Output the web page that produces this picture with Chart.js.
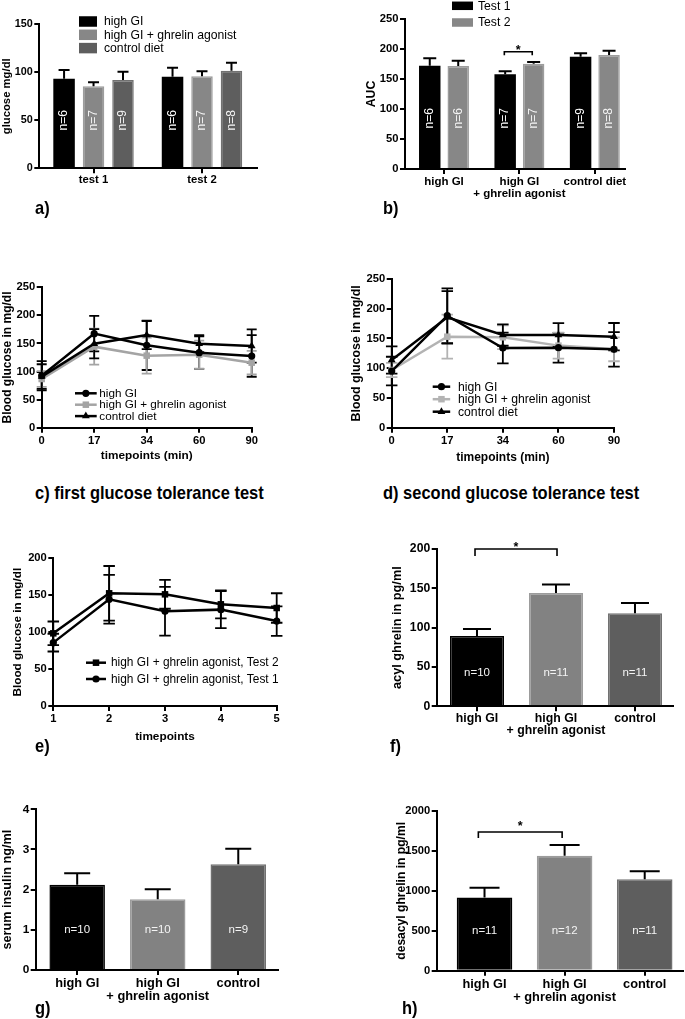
<!DOCTYPE html>
<html><head><meta charset="utf-8">
<script src="https://cdn.jsdelivr.net/npm/chart.js@4.4.1/dist/chart.umd.min.js"></script>
<style>
html,body{margin:0;padding:0;background:#fff;}
#fig{position:relative;width:685px;height:1019px;overflow:hidden;background:#fff;font-family:"Liberation Sans",Arial,Helvetica,sans-serif;}
#fig canvas{position:absolute;}
.lbl{position:absolute;font-weight:bold;font-size:18.5px;line-height:1;white-space:nowrap;color:#000;transform:scaleX(0.89);transform-origin:0 50%;}
</style></head><body>
<div id="fig">
<canvas id="ca"></canvas><canvas id="cb"></canvas>
<canvas id="cc"></canvas><canvas id="cd"></canvas>
<canvas id="ce"></canvas><canvas id="cf"></canvas>
<canvas id="cg"></canvas><canvas id="ch"></canvas>
<div class="lbl" style="left:35px;top:199px">a)</div>
<div class="lbl" style="left:383px;top:199px">b)</div>
<div class="lbl" style="left:35px;top:484px">c) first glucose tolerance test</div>
<div class="lbl" style="left:383px;top:484px">d) second glucose tolerance test</div>
<div class="lbl" style="left:35px;top:737px">e)</div>
<div class="lbl" style="left:390px;top:737px">f)</div>
<div class="lbl" style="left:35px;top:999px">g)</div>
<div class="lbl" style="left:402px;top:999px">h)</div>
</div>
<script>
// ---------------- DATA ----------------
// a) fasting glucose
const aCategories = ['test 1', 'test 2'];
const aSeries = ['high GI', 'high GI + ghrelin agonist', 'control diet'];
const aHighGI = [93.3, 95.4];
const aHighGIErr = [9.1, 9.4];
const aGhrelin = [85.4, 95.8];
const aGhrelinErr = [4.2, 5.2];
const aControl = [92.0, 101.7];
const aControlErr = [8.6, 8.3];
const aNHighGI = ['n=6', 'n=6'];
const aNGhrelin = ['n=7', 'n=7'];
const aNControl = ['n=9', 'n=8'];

// b) AUC
const bCategories = [['high GI'], ['high GI', '+ ghrelin agonist'], ['control diet']];
const bSeries = ['Test 1', 'Test 2'];
const bTest1 = [172, 158, 187];
const bTest1Err = [12.5, 4.8, 5.8];
const bTest2 = [171.7, 175.5, 190];
const bTest2Err = [8.8, 2.8, 7.2];
const bNTest1 = ['n=6', 'n=7', 'n=9'];
const bNTest2 = ['n=6', 'n=7', 'n=8'];

// c) first glucose tolerance test
const cTimepoints = ['0', '17', '34', '60', '90'];
const cSeries = ['high GI', 'high GI + ghrelin agonist', 'control diet'];
const cHighGI = [92.6, 167.5, 146.7, 133.6, 127.7];
const cHighGIErr = [26, 31.5, 44, 29, 37];
const cGhrelin = [86.7, 144.3, 128.3, 130, 115.8];
const cGhrelinErr = [14, 32, 32, 25, 21];
const cControl = [91, 149.6, 165, 149.6, 145.5];
const cControlErr = [22, 26, 25, 15, 29.5];

// d) second glucose tolerance test
const dTimepoints = ['0', '17', '34', '60', '90'];
const dSeries = ['high GI', 'high GI + ghrelin agonist', 'control diet'];
const dHighGI = [95.3, 188.3, 134, 134.5, 131.7];
const dHighGIErr = [24, 46, 26, 25, 29];
const dGhrelin = [97, 153, 152, 138, 131.7];
const dGhrelinErr = [12, 37, 20, 22, 20];
const dControl = [113.8, 185.5, 155.8, 155.8, 153];
const dControlErr = [23, 44, 18, 20, 23];

// e) ghrelin agonist group, test 1 vs test 2
const eTimepoints = ['1', '2', '3', '4', '5'];
const eSeries = ['high GI + ghrelin agonist, Test 2', 'high GI + ghrelin agonist, Test 1'];
const eTest2 = [98.4, 152.6, 151.2, 137.7, 132.7];
const eTest2Err = [16, 37, 19.5, 19, 20];
const eTest1 = [85.8, 144.5, 128.2, 130.5, 115];
const eTest1Err = [12, 33, 33, 25, 20];

// f) acyl ghrelin
const fCategories = [['high GI'], ['high GI', '+ ghrelin agonist'], ['control']];
const fValues = [89.4, 144, 118.2];
const fErr = [8.9, 11, 13.2];
const fN = ['n=10', 'n=11', 'n=11'];

// g) serum insulin
const gCategories = [['high GI'], ['high GI', '+ ghrelin agonist'], ['control']];
const gValues = [2.12, 1.76, 2.63];
const gErr = [0.29, 0.25, 0.39];
const gN = ['n=10', 'n=10', 'n=9'];

// h) desacyl ghrelin
const hCategories = [['high GI'], ['high GI', '+ ghrelin agonist'], ['control']];
const hValues = [918, 1440, 1144];
const hErr = [122, 134, 100];
const hN = ['n=11', 'n=12', 'n=11'];

// ---------------- STYLE ----------------
const FAM = '"Liberation Sans", Arial, Helvetica, sans-serif';
Chart.defaults.font.family = FAM;
Chart.defaults.color = '#000';
const BLACK = '#000000', GREY = '#878787', GREY_EDGE = '#9d9d9d', DARK = '#5e5e5e', DARK_EDGE = '#717171';
const LGREY = '#a4a4a4';

function bold(size, lh) { return { family: FAM, size: size, weight: 'bold', lineHeight: lh || 1.2 }; }
function toXY(arr) { return arr.map((v, i) => ({ x: i, y: v })); }

// ---------------- PLUGINS ----------------
function drawErr(chart, o) {
  const ctx = chart.ctx, y = chart.scales.y;
  chart.data.datasets.forEach((ds, di) => {
    if (!ds.errors) return;
    const meta = chart.getDatasetMeta(di);
    ctx.save();
    ctx.strokeStyle = ds.errorColor || '#000';
    ctx.lineWidth = o.lineWidth || 2;
    meta.data.forEach((el, i) => {
      const raw = ds.data[i];
      const v = (raw && typeof raw === 'object') ? raw.y : raw;
      const e = ds.errors[i];
      if (e == null) return;
      const x = el.x;
      const yt = y.getPixelForValue(v + e);
      const yb = y.getPixelForValue(o.both ? v - e : v);
      const hw = (o.capWidth || 10) / 2;
      ctx.beginPath();
      ctx.moveTo(x, yt); ctx.lineTo(x, yb);
      ctx.moveTo(x - hw, yt); ctx.lineTo(x + hw, yt);
      if (o.both) { ctx.moveTo(x - hw, yb); ctx.lineTo(x + hw, yb); }
      ctx.stroke();
    });
    ctx.restore();
  });
}
const errorBars = {
  id: 'errorBars',
  beforeDatasetsDraw(chart, a, o) { if (o && o.layer === 'before') drawErr(chart, o); },
  afterDatasetsDraw(chart, a, o) { if (o && o.layer === 'after') drawErr(chart, o); }
};
const barText = {
  id: 'barText',
  afterDatasetsDraw(chart, a, o) {
    if (!o || o.yValue == null) return;
    const ctx = chart.ctx, y = chart.scales.y;
    chart.data.datasets.forEach((ds, di) => {
      if (!ds.nLabels) return;
      const meta = chart.getDatasetMeta(di);
      meta.data.forEach((el, i) => {
        ctx.save();
        ctx.fillStyle = ds.nColor || '#fff';
        ctx.font = o.font;
        ctx.textAlign = 'center';
        ctx.textBaseline = 'middle';
        ctx.translate(el.x, y.getPixelForValue(o.yValue));
        if (o.rotate) ctx.rotate(o.rotate);
        ctx.fillText(ds.nLabels[i], 0, 0);
        ctx.restore();
      });
    });
  }
};
const sigBracket = {
  id: 'sigBracket',
  afterDatasetsDraw(chart, a, o) {
    if (!o || !o.items) return;
    const ctx = chart.ctx, x = chart.scales.x, y = chart.scales.y;
    o.items.forEach(b => {
      const x1 = x.getPixelForValue(b.x1), x2 = x.getPixelForValue(b.x2), yy = y.getPixelForValue(b.y);
      ctx.save();
      ctx.strokeStyle = '#000'; ctx.lineWidth = 1.6;
      ctx.beginPath();
      ctx.moveTo(x1, yy + b.drop); ctx.lineTo(x1, yy); ctx.lineTo(x2, yy); ctx.lineTo(x2, yy + b.drop);
      ctx.stroke();
      ctx.fillStyle = '#000';
      ctx.font = 'bold ' + b.size + 'px ' + FAM;
      ctx.textAlign = 'center'; ctx.textBaseline = 'alphabetic';
      ctx.fillText(b.text, (x1 + x2) / 2, yy - b.starDy + 0.57 * b.size);
      ctx.restore();
    });
  }
};
function drawMarker(ctx, style, x, y, r, color) {
  ctx.save(); ctx.fillStyle = color; ctx.beginPath();
  if (style === 'circle') ctx.arc(x, y, r, 0, Math.PI * 2);
  else if (style === 'rect') { const s = Math.SQRT1_2 * r; ctx.rect(x - s, y - s, 2 * s, 2 * s); }
  else if (style === 'triangle') {
    for (let k = 0; k < 3; k++) { const ang = k * 2 * Math.PI / 3; const px = x + Math.sin(ang) * r, py = y - Math.cos(ang) * r; if (k) ctx.lineTo(px, py); else ctx.moveTo(px, py); }
    ctx.closePath();
  }
  ctx.fill(); ctx.restore();
}
const insideLegend = {
  id: 'insideLegend',
  afterDraw(chart, a, o) {
    if (!o || o.x == null) return;
    const ctx = chart.ctx;
    const ox = o._ox || 0, oy = o._oy || 0;
    chart.data.datasets.forEach((ds, i) => {
      const yy = o.y0 + i * o.dy - oy;
      const xx = o.x - ox;
      ctx.save();
      if (o.kind === 'box') {
        ctx.fillStyle = ds.backgroundColor;
        ctx.fillRect(xx, yy - o.boxH / 2, o.boxW, o.boxH);
      } else {
        ctx.strokeStyle = ds.borderColor; ctx.lineWidth = ds.borderWidth;
        ctx.beginPath(); ctx.moveTo(xx, yy); ctx.lineTo(xx + o.lineLen, yy); ctx.stroke();
        drawMarker(ctx, ds.pointStyle, xx + o.lineLen / 2, yy, ds.pointRadius, ds.borderColor);
      }
      ctx.fillStyle = '#000';
      ctx.font = o.font;
      ctx.textAlign = 'left'; ctx.textBaseline = 'middle';
      ctx.fillText(ds.label, o.textX - ox, yy + 0.5);
      ctx.restore();
    });
  }
};
Chart.register(errorBars, barText, sigBracket, insideLegend);

// ---------------- AXIS BUILDERS ----------------
function yAxis(max, step, tickSize, title, titleSize) {
  return {
    type: 'linear', min: 0, max: max, bounds: 'data',
    ticks: { stepSize: step, font: bold(tickSize), padding: 1.5, color: '#000', callback: v => String(v) },
    grid: { drawOnChartArea: false, drawTicks: true, tickLength: 5, color: '#000', lineWidth: 2 },
    border: { display: true, color: '#000', width: 2 },
    title: { display: true, text: title, font: bold(titleSize), padding: 0, color: '#000' }
  };
}
function barX(cats, min, max, fontSize, lh, pad) {
  return {
    type: 'linear', min: min, max: max, bounds: 'data', offset: false, grace: 0,
    afterBuildTicks: s => { s.ticks = cats.map((c, i) => ({ value: i })); },
    ticks: { callback: (v) => cats[Math.round(v)], autoSkip: false, maxRotation: 0, minRotation: 0, font: bold(fontSize, lh), padding: pad, color: '#000' },
    grid: { drawOnChartArea: false, drawTicks: true, tickLength: 5, color: '#000', lineWidth: 2, offset: false },
    border: { display: true, color: '#000', width: 2 }
  };
}
function catX(labels, fontSize, title, titleSize, pad) {
  return {
    type: 'category', labels: labels, offset: false,
    ticks: { font: bold(fontSize), padding: pad, autoSkip: false, maxRotation: 0, color: '#000' },
    grid: { drawOnChartArea: false, drawTicks: true, tickLength: 5, color: '#000', lineWidth: 2, offset: false },
    border: { display: true, color: '#000', width: 2 },
    title: { display: true, text: title, font: bold(titleSize), padding: 0, color: '#000' }
  };
}

function makeChart(id, box, area, cfg) {
  const cv = document.getElementById(id);
  cv.width = box.w; cv.height = box.h;
  cv.style.left = box.x + 'px'; cv.style.top = box.y + 'px';
  cv.style.width = box.w + 'px'; cv.style.height = box.h + 'px';
  const o = cfg.options;
  o.responsive = false; o.animation = false; o.devicePixelRatio = 1;
  o.layout = { padding: { top: area.t - box.y, right: box.x + box.w - area.r, left: 0, bottom: 0 } };
  o.scales.y.afterFit = s => { s.width = area.l - box.x; };
  o.scales.x.afterFit = s => { s.height = box.y + box.h - area.b; };
  o.plugins = o.plugins || {};
  o.plugins.legend = { display: false };
  o.plugins.tooltip = { enabled: false };
  if (o.plugins.insideLegend) { o.plugins.insideLegend._ox = box.x; o.plugins.insideLegend._oy = box.y; }
  return new Chart(cv, cfg);
}

// ---------------- a) ----------------
makeChart('ca', { x: 0, y: 0, w: 340, h: 200 }, { l: 39.3, t: 24.3, r: 257, b: 168.3 }, {
  type: 'bar',
  data: { datasets: [
    { label: aSeries[0], data: toXY(aHighGI), backgroundColor: BLACK, borderColor: BLACK, borderWidth: 0, errors: aHighGIErr, nLabels: aNHighGI, nColor: '#ffffff' },
    { label: aSeries[1], data: toXY(aGhrelin), backgroundColor: GREY, borderColor: GREY_EDGE, borderWidth: 1.5, errors: aGhrelinErr, nLabels: aNGhrelin, nColor: '#f4f4f4' },
    { label: aSeries[2], data: toXY(aControl), backgroundColor: DARK, borderColor: DARK_EDGE, borderWidth: 1.5, errors: aControlErr, nLabels: aNControl, nColor: '#f4f4f4' }
  ] },
  options: {
    categoryPercentage: 0.815, barPercentage: 0.73,
    scales: { x: barX(aCategories, -0.5, 1.507, 11.3, 1.15, 0.5), y: yAxis(150, 50, 10.8, 'glucose mg/dl', 11.3) },
    plugins: {
      errorBars: { layer: 'after', capWidth: 11, lineWidth: 2 },
      barText: { yValue: 50, rotate: -Math.PI / 2, font: '12px ' + FAM },
      insideLegend: { kind: 'box', x: 79, y0: 21.5, dy: 13.3, boxW: 18, boxH: 10.5, textX: 104, font: '12.2px ' + FAM }
    }
  }
});

// ---------------- b) ----------------
makeChart('cb', { x: 364, y: 0, w: 321, h: 200 }, { l: 405, t: 19, r: 625, b: 169 }, {
  type: 'bar',
  data: { datasets: [
    { label: bSeries[0], data: toXY(bTest1), backgroundColor: BLACK, borderColor: BLACK, borderWidth: 0, errors: bTest1Err, nLabels: bNTest1, nColor: '#ffffff' },
    { label: bSeries[1], data: toXY(bTest2), backgroundColor: GREY, borderColor: GREY_EDGE, borderWidth: 1.5, errors: bTest2Err, nLabels: bNTest2, nColor: '#f4f4f4' }
  ] },
  options: {
    categoryPercentage: 0.755, barPercentage: 0.754,
    scales: { x: barX(bCategories, -0.517, 2.4, 11.5, 1.0, 2.5), y: yAxis(250, 50, 11.2, 'AUC', 12.3) },
    plugins: {
      errorBars: { layer: 'after', capWidth: 13, lineWidth: 2 },
      barText: { yValue: 84.5, rotate: -Math.PI / 2, font: '12px ' + FAM },
      sigBracket: { items: [{ x1: 0.80, x2: 1.17, y: 195.5, drop: 3.5, starDy: 5, text: '*', size: 12.5 }] },
      insideLegend: { kind: 'box', x: 452, y0: 5.8, dy: 16.7, boxW: 21, boxH: 8.5, textX: 478, font: '12.2px ' + FAM }
    }
  }
});

// ---------------- line chart helper ----------------
function lineDs(label, data, err, color, style, r, order) {
  return { label: label, data: data, errors: err, errorColor: color, borderColor: color, backgroundColor: color,
    pointBackgroundColor: color, pointBorderColor: color, pointBorderWidth: 0, pointStyle: style, pointRadius: r,
    borderWidth: 2.5, tension: 0, fill: false, clip: false, order: order };
}

// ---------------- c) ----------------
makeChart('cc', { x: 0, y: 241, w: 340, h: 222 }, { l: 41.7, t: 287.3, r: 251.7, b: 427.7 }, {
  type: 'line',
  data: { labels: cTimepoints, datasets: [
    lineDs(cSeries[0], cHighGI, cHighGIErr, BLACK, 'circle', 3.6, 0),
    lineDs(cSeries[1], cGhrelin, cGhrelinErr, LGREY, 'rect', 4.6, 2),
    lineDs(cSeries[2], cControl, cControlErr, BLACK, 'triangle', 4.5, 1)
  ] },
  options: {
    scales: { x: catX(cTimepoints, 11.2, 'timepoints (min)', 11.8, 1), y: yAxis(250, 50, 11.2, 'Blood glucose in mg/dl', 12) },
    plugins: {
      errorBars: { layer: 'before', both: true, capWidth: 10, lineWidth: 1.8 },
      insideLegend: { kind: 'line', x: 75, y0: 393.3, dy: 11.4, lineLen: 21.7, textX: 99.3, font: '11.7px ' + FAM }
    }
  }
});

// ---------------- d) ----------------
makeChart('cd', { x: 349, y: 241, w: 336, h: 224 }, { l: 391.7, t: 279, r: 614, b: 427.7 }, {
  type: 'line',
  data: { labels: dTimepoints, datasets: [
    lineDs(dSeries[0], dHighGI, dHighGIErr, BLACK, 'circle', 3.6, 0),
    lineDs(dSeries[1], dGhrelin, dGhrelinErr, '#b3b3b3', 'rect', 4.6, 2),
    lineDs(dSeries[2], dControl, dControlErr, BLACK, 'triangle', 4.5, 1)
  ] },
  options: {
    scales: { x: catX(dTimepoints, 11.2, 'timepoints (min)', 12, 1), y: yAxis(250, 50, 11.2, 'Blood glucose in mg/dl', 12.4) },
    plugins: {
      errorBars: { layer: 'before', both: true, capWidth: 11.5, lineWidth: 1.8 },
      insideLegend: { kind: 'line', x: 432.7, y0: 386.7, dy: 12.5, lineLen: 17.5, textX: 458, font: '12.2px ' + FAM }
    }
  }
});

// ---------------- e) ----------------
makeChart('ce', { x: 11, y: 540, w: 329, h: 204 }, { l: 53.3, t: 558.3, r: 276.7, b: 706 }, {
  type: 'line',
  data: { labels: eTimepoints, datasets: [
    lineDs(eSeries[0], eTest2, eTest2Err, BLACK, 'rect', 4.6, 0),
    lineDs(eSeries[1], eTest1, eTest1Err, BLACK, 'circle', 3.6, 1)
  ] },
  options: {
    scales: { x: catX(eTimepoints, 11.2, 'timepoints', 11.8, 0.7), y: yAxis(200, 50, 11.2, 'Blood glucose in mg/dl', 11.7) },
    plugins: {
      errorBars: { layer: 'before', both: true, capWidth: 11.5, lineWidth: 1.8 },
      insideLegend: { kind: 'line', x: 86, y0: 662.7, dy: 16.3, lineLen: 20, textX: 111, font: '11.9px ' + FAM }
    }
  }
});

// ---------------- single bar helper ----------------
function singleBars(values, err, nLabels) {
  return [{
    label: 'values', data: toXY(values), errors: err, nLabels: nLabels,
    backgroundColor: [BLACK, '#828282', DARK], borderColor: [BLACK, '#9c9c9c', DARK_EDGE], borderWidth: 1.5,
    nColor: '#f4f4f4'
  }];
}

// ---------------- f) ----------------
makeChart('cf', { x: 390, y: 530, w: 295, h: 210 }, { l: 436.7, t: 549, r: 673.3, b: 706.3 }, {
  type: 'bar',
  data: { datasets: singleBars(fValues, fErr, fN) },
  options: {
    categoryPercentage: 0.684, barPercentage: 1,
    scales: { x: barX(fCategories, -0.51, 2.485, 12.3, 0.97, 1.5), y: yAxis(200, 50, 12.2, 'acyl ghrelin in pg/ml', 12.7) },
    plugins: {
      errorBars: { layer: 'after', capWidth: 28, lineWidth: 2 },
      barText: { yValue: 42, rotate: 0, font: '11.5px ' + FAM },
      sigBracket: { items: [{ x1: -0.025, x2: 1.013, y: 200, drop: 7, starDy: 4.7, text: '*', size: 12.5 }] }
    }
  }
});

// ---------------- g) ----------------
makeChart('cg', { x: 0, y: 790, w: 340, h: 215 }, { l: 35.7, t: 809.3, r: 278.3, b: 970 }, {
  type: 'bar',
  data: { datasets: singleBars(gValues, gErr, gN) },
  options: {
    categoryPercentage: 0.689, barPercentage: 1,
    scales: { x: barX(gCategories, -0.515, 2.497, 12.8, 1.02, 2), y: yAxis(4, 1, 11.8, 'serum insulin ng/ml', 12.7) },
    plugins: {
      errorBars: { layer: 'after', capWidth: 26, lineWidth: 2 },
      barText: { yValue: 1, rotate: 0, font: '11.5px ' + FAM }
    }
  }
});

// ---------------- h) ----------------
makeChart('ch', { x: 394, y: 790, w: 291, h: 215 }, { l: 436.7, t: 811, r: 683, b: 970.7 }, {
  type: 'bar',
  data: { datasets: singleBars(hValues, hErr, hN) },
  options: {
    categoryPercentage: 0.694, barPercentage: 1,
    scales: { x: barX(hCategories, -0.597, 2.478, 12.8, 1.02, 2), y: yAxis(2000, 500, 11.2, 'desacyl ghrelin in pg/ml', 12.1) },
    plugins: {
      errorBars: { layer: 'after', capWidth: 30, lineWidth: 2 },
      barText: { yValue: 501, rotate: 0, font: '11.5px ' + FAM },
      sigBracket: { items: [{ x1: -0.077, x2: 0.969, y: 1737, drop: 6, starDy: 9, text: '*', size: 12.5 }] }
    }
  }
});
</script>
</body></html>
